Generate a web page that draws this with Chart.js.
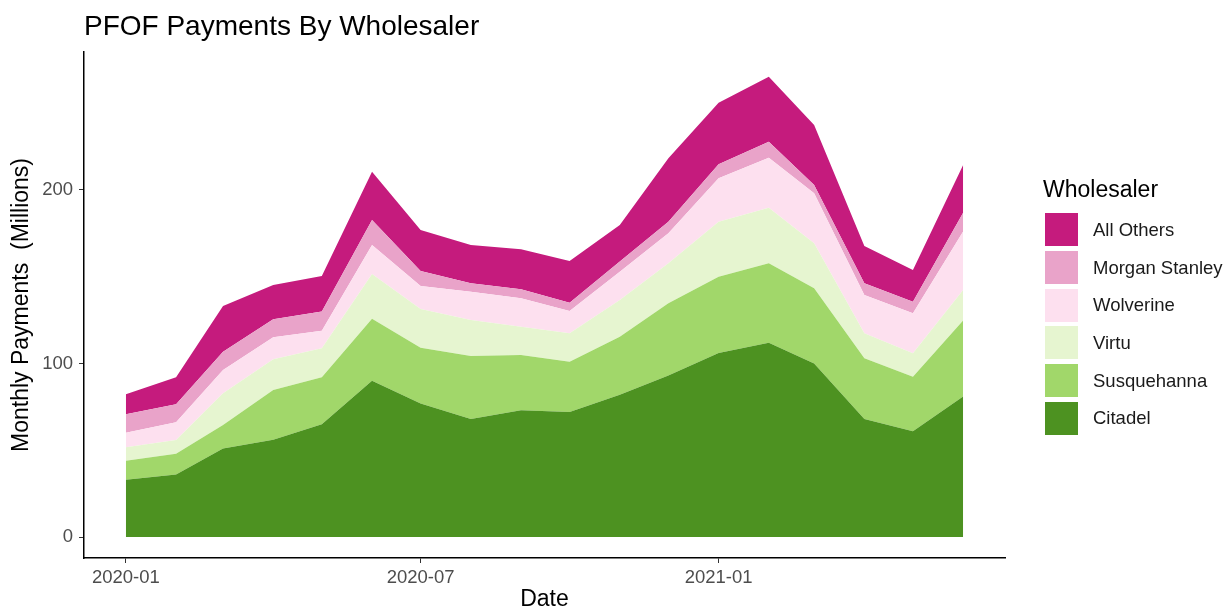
<!DOCTYPE html>
<html>
<head>
<meta charset="utf-8">
<script src="https://cdn.jsdelivr.net/npm/chart.js@4.4.0/dist/chart.umd.min.js"></script>
<style>
  html, body { margin: 0; padding: 0; background: #fff; }
  #wrap { position: relative; width: 1228px; height: 611px; font-family: "Liberation Sans", Arial, sans-serif; }
  #legend { position: absolute; left: 1043px; top: 174px; }
  #legend .ttl { font-size: 23px; color: #000; height: 37px; line-height: 30px; }
  #legend .row { display: flex; align-items: center; height: 37.7px; }
  #legend .sw { width: 33px; height: 33px; margin-left: 2px; margin-right: 15px; }
  #legend .lb { font-size: 18.5px; color: #1a1a1a; }
</style>
</head>
<body>
<div id="wrap">
  <canvas id="pfof" width="1228" height="611"></canvas>
  <div id="legend"></div>
</div>
<script>
// months, 2020-01 .. 2021-06
var months = ["2020-01","2020-02","2020-03","2020-04","2020-05","2020-06","2020-07","2020-08","2020-09",
              "2020-10","2020-11","2020-12","2021-01","2021-02","2021-03","2021-04","2021-05","2021-06"];
// monthly payments, millions
var citadel     = [33, 36, 51, 56, 65, 90, 77, 68, 73, 72, 82, 93, 106, 112, 100, 68, 61, 81];
var susquehanna = [11, 12, 13.6, 28.7, 27, 35.8, 32.1, 36.3, 31.9, 29, 33.4, 41.7, 44, 45.7, 43.3, 35, 31.4, 43.7];
var virtu       = [7.7, 7.9, 18.2, 17.7, 16.8, 25.8, 22.3, 20.8, 16.3, 16.4, 21.2, 23, 31.7, 32.1, 26, 14.4, 13.5, 17.7];
var wolverine   = [8.4, 10.2, 13.5, 12.7, 10.1, 16.7, 13.3, 16.3, 16.4, 12.9, 16.3, 17.3, 25, 28.8, 28.8, 22.1, 23, 33.6];
var morgan      = [10.6, 10.4, 10.5, 10.4, 11, 14.4, 8.6, 4.8, 5.2, 4.7, 5.8, 6.7, 8.1, 9.2, 4.8, 6.7, 6.7, 10.9];
var allOthers   = [11.5, 15.5, 26.3, 19.7, 20.5, 27.8, 23.6, 22.1, 23, 24.1, 21.1, 36.6, 35.5, 37.5, 34.6, 21.5, 18.3, 27.5];

var xTickLabels = ["2020-01", "2020-07", "2021-01"];
var yTicks = [0, 100, 200];

var names  = ["Citadel", "Susquehanna", "Virtu", "Wolverine", "Morgan Stanley", "All Others"];
var series = [citadel, susquehanna, virtu, wolverine, morgan, allOthers];
var colors = ["#4d9221", "#a1d76a", "#e6f5d0", "#fde0ef", "#e9a3c9", "#c51b7d"];

// days since 2020-01-01
function toDay(s) {
  var p = s.split("-");
  return (Date.UTC(+p[0], +p[1] - 1, 1) - Date.UTC(2020, 0, 1)) / 86400000;
}
function dayLabel(d) {
  var dt = new Date(Date.UTC(2020, 0, 1) + d * 86400000);
  var m = dt.getUTCMonth() + 1;
  return dt.getUTCFullYear() + "-" + (m < 10 ? "0" + m : m);
}

var xs = months.map(toDay);
var span = xs[xs.length - 1] - xs[0];

var datasets = series.map(function(vals, i) {
  return {
    label: names[i],
    data: vals.map(function(v, j) { return { x: xs[j], y: v }; }),
    backgroundColor: colors[i],
    borderColor: colors[i],
    borderWidth: 0,
    pointRadius: 0,
    tension: 0,
    fill: i === 0 ? "origin" : "-1"
  };
});

var tickFont = { family: "'Liberation Sans', Arial, sans-serif", size: 18.5 };
var titleFont = { family: "'Liberation Sans', Arial, sans-serif", size: 23, lineHeight: 1.0 };

new Chart(document.getElementById("pfof"), {
  type: "line",
  data: { datasets: datasets },
  options: {
    responsive: false,
    animation: false,
    layout: { padding: { left: 0, right: 223, top: 0, bottom: 0 } },
    plugins: {
      legend: { display: false },
      tooltip: { enabled: false },
      title: {
        display: true,
        text: "PFOF Payments By Wholesaler",
        align: "start",
        fullSize: false,
        color: "#000",
        font: { family: "'Liberation Sans', Arial, sans-serif", size: 28, weight: "normal", lineHeight: 1.0 },
        padding: { top: 13, bottom: 11 }
      }
    },
    scales: {
      x: {
        type: "linear",
        min: xs[0] - span * 0.05,
        max: xs[xs.length - 1] + span * 0.05,
        afterBuildTicks: function(scale) {
          scale.ticks = xTickLabels.map(function(s) { return { value: toDay(s) }; });
        },
        afterFit: function(scale) { scale.height = 53; },
        ticks: {
          color: "#4d4d4d",
          font: tickFont,
          padding: 4,
          maxRotation: 0,
          callback: function(v) { return dayLabel(v); }
        },
        grid: { display: true, drawOnChartArea: false, drawTicks: true, tickLength: 5, color: "#333", lineWidth: 1 },
        border: { display: true, color: "#000", width: 1.5 },
        title: { display: true, text: "Date", color: "#000", font: titleFont, padding: { top: 0, bottom: 0 } }
      },
      y: {
        stacked: true,
        min: -12.1,
        max: 279.5,
        afterBuildTicks: function(scale) {
          scale.ticks = yTicks.map(function(v) { return { value: v }; });
        },
        afterFit: function(scale) { scale.width = 84; },
        ticks: { color: "#4d4d4d", font: tickFont, padding: 6 },
        grid: { display: true, drawOnChartArea: false, drawTicks: true, tickLength: 5, color: "#333", lineWidth: 1 },
        border: { display: true, color: "#000", width: 1.5 },
        title: { display: true, text: "Monthly Payments  (Millions)", color: "#000", font: titleFont, padding: { top: 10, bottom: 0 } }
      }
    }
  }
});

// legend, top series first like the reference
var lg = document.getElementById("legend");
var html = '<div class="ttl">Wholesaler</div>';
for (var i = names.length - 1; i >= 0; i--) {
  html += '<div class="row"><div class="sw" style="background:' + colors[i] + '"></div><div class="lb">' + names[i] + '</div></div>';
}
lg.innerHTML = html;
</script>
</body>
</html>
